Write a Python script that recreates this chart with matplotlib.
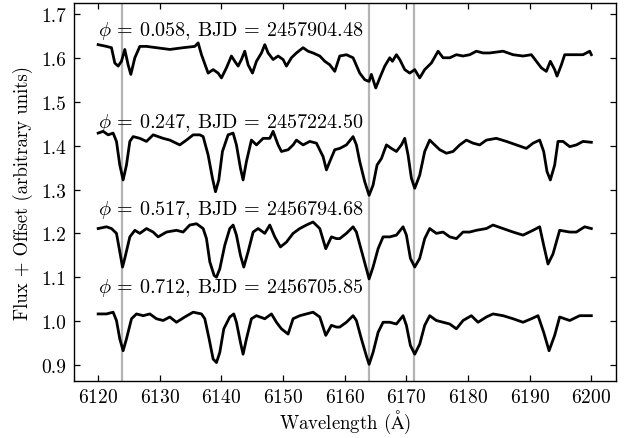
import numpy as np
import matplotlib
matplotlib.use("Agg")
import matplotlib.pyplot as plt

plt.rcParams["font.family"] = "serif"
plt.rcParams["font.serif"] = ["cmr10"]
plt.rcParams["mathtext.fontset"] = "cm"
plt.rcParams["axes.formatter.use_mathtext"] = True

# phase 0.058 (offset +0.6)
wl_a = [6120.0, 6121.35, 6122.16, 6122.70, 6123.24, 6123.78, 6124.32, 6124.86, 6125.30, 6125.95,
        6126.76, 6127.84, 6129.46, 6131.62, 6133.78, 6135.68, 6136.22, 6136.76, 6137.84, 6138.65,
        6139.46, 6140.00, 6140.81, 6141.62, 6142.16, 6142.70, 6143.24, 6143.78, 6144.32, 6145.03,
        6145.68, 6146.49, 6147.03, 6147.57, 6148.38, 6149.19, 6150.00, 6150.54, 6151.35, 6152.16,
        6153.24, 6154.05, 6154.86, 6155.95, 6156.76, 6157.57, 6158.38, 6159.19, 6160.27, 6161.35,
        6162.43, 6163.24, 6163.95, 6164.32, 6165.03, 6165.68, 6166.49, 6167.30, 6167.73, 6168.38,
        6168.92, 6169.73, 6170.54, 6171.35, 6172.16, 6172.97, 6174.05, 6175.14, 6175.95, 6177.03,
        6178.11, 6179.19, 6180.27, 6181.35, 6182.43, 6183.51, 6185.68, 6187.30, 6188.92, 6190.27,
        6191.08, 6191.89, 6192.70, 6193.35, 6194.05, 6194.43, 6195.14, 6195.68, 6197.03, 6198.65,
        6199.73, 6200.0]
fx_a = [1.631, 1.627, 1.624, 1.589, 1.582, 1.593, 1.620, 1.585, 1.563, 1.601,
        1.627, 1.627, 1.624, 1.620, 1.624, 1.627, 1.635, 1.608, 1.566, 1.574,
        1.566, 1.555, 1.578, 1.605, 1.593, 1.582, 1.597, 1.616, 1.585, 1.566,
        1.593, 1.612, 1.631, 1.612, 1.597, 1.605, 1.597, 1.582, 1.601, 1.612,
        1.624, 1.616, 1.612, 1.605, 1.593, 1.585, 1.570, 1.605, 1.608, 1.601,
        1.566, 1.551, 1.547, 1.563, 1.532, 1.555, 1.582, 1.601, 1.593, 1.608,
        1.597, 1.574, 1.566, 1.574, 1.555, 1.574, 1.589, 1.616, 1.601, 1.601,
        1.608, 1.605, 1.608, 1.616, 1.612, 1.612, 1.616, 1.608, 1.605, 1.608,
        1.593, 1.578, 1.570, 1.593, 1.574, 1.559, 1.585, 1.608, 1.608, 1.608,
        1.616, 1.608]

# phase 0.247 (offset +0.4)
wl_b = [6120.0, 6120.81, 6121.62, 6122.43, 6122.97, 6123.51, 6124.05, 6124.59, 6125.14, 6125.68,
        6126.76, 6127.84, 6128.92, 6130.54, 6131.62, 6133.24, 6134.32, 6135.41, 6136.49, 6137.03,
        6137.84, 6138.54, 6139.03, 6139.57, 6140.16, 6141.08, 6141.89, 6142.43, 6143.08, 6143.51,
        6144.05, 6144.86, 6145.68, 6146.76, 6147.84, 6148.38, 6149.19, 6149.73, 6150.81, 6151.62,
        6152.16, 6153.24, 6154.32, 6155.41, 6156.49, 6157.03, 6157.57, 6158.38, 6159.19, 6160.27,
        6161.35, 6161.89, 6162.43, 6163.24, 6163.95, 6164.59, 6165.24, 6165.95, 6166.76, 6167.57,
        6168.38, 6169.19, 6169.73, 6170.27, 6170.81, 6171.35, 6172.16, 6172.97, 6173.78, 6174.59,
        6175.41, 6176.49, 6177.57, 6178.65, 6179.73, 6180.81, 6181.89, 6182.97, 6184.59, 6186.22,
        6187.84, 6189.46, 6190.54, 6191.62, 6192.27, 6192.81, 6193.35, 6194.05, 6194.59, 6195.41,
        6196.49, 6197.57, 6198.65, 6200.0]
fx_b = [1.429, 1.433, 1.425, 1.429, 1.410, 1.356, 1.322, 1.356, 1.410, 1.421,
        1.417, 1.410, 1.425, 1.417, 1.413, 1.402, 1.413, 1.425, 1.425, 1.421,
        1.379, 1.326, 1.295, 1.322, 1.387, 1.425, 1.429, 1.402, 1.349, 1.322,
        1.364, 1.413, 1.402, 1.417, 1.417, 1.433, 1.402, 1.387, 1.391, 1.402,
        1.413, 1.402, 1.410, 1.406, 1.375, 1.345, 1.364, 1.391, 1.394, 1.402,
        1.421, 1.402, 1.364, 1.318, 1.287, 1.310, 1.356, 1.371, 1.402, 1.394,
        1.387, 1.402, 1.417, 1.379, 1.326, 1.303, 1.333, 1.387, 1.413, 1.402,
        1.391, 1.383, 1.387, 1.402, 1.413, 1.406, 1.402, 1.413, 1.417, 1.410,
        1.402, 1.394, 1.406, 1.413, 1.387, 1.341, 1.322, 1.356, 1.410, 1.410,
        1.398, 1.402, 1.410, 1.408]

# phase 0.517 (offset +0.2)
wl_c = [6120.0, 6121.35, 6122.16, 6122.97, 6123.51, 6123.95, 6124.32, 6125.14, 6125.95, 6126.76,
        6127.84, 6128.92, 6129.73, 6131.08, 6132.70, 6133.78, 6134.86, 6135.95, 6137.03, 6137.57,
        6138.11, 6138.81, 6139.19, 6139.73, 6140.54, 6141.35, 6141.89, 6142.43, 6143.08, 6143.62,
        6144.32, 6145.14, 6145.95, 6147.03, 6147.84, 6148.65, 6149.57, 6150.54, 6151.62, 6152.70,
        6153.78, 6154.86, 6155.95, 6156.92, 6157.84, 6158.65, 6159.19, 6160.27, 6161.35, 6161.89,
        6162.70, 6163.51, 6163.95, 6164.59, 6165.41, 6166.22, 6167.30, 6168.38, 6169.46, 6170.00,
        6170.65, 6171.35, 6172.16, 6172.97, 6173.78, 6174.86, 6175.95, 6177.03, 6178.11, 6179.19,
        6180.27, 6181.35, 6182.97, 6184.05, 6185.68, 6187.30, 6188.92, 6190.54, 6191.62, 6192.27,
        6192.97, 6193.78, 6194.86, 6196.49, 6197.57, 6198.92, 6200.0]
fx_c = [1.211, 1.215, 1.211, 1.200, 1.158, 1.123, 1.143, 1.192, 1.207, 1.200,
        1.211, 1.203, 1.192, 1.203, 1.207, 1.203, 1.219, 1.222, 1.211, 1.188,
        1.135, 1.104, 1.100, 1.119, 1.173, 1.211, 1.219, 1.196, 1.150, 1.123,
        1.158, 1.203, 1.211, 1.200, 1.219, 1.192, 1.169, 1.180, 1.200, 1.211,
        1.219, 1.226, 1.211, 1.165, 1.192, 1.188, 1.188, 1.200, 1.215, 1.203,
        1.161, 1.119, 1.096, 1.123, 1.165, 1.192, 1.192, 1.196, 1.215, 1.196,
        1.143, 1.123, 1.143, 1.188, 1.211, 1.200, 1.203, 1.192, 1.188, 1.203,
        1.203, 1.207, 1.211, 1.219, 1.211, 1.203, 1.196, 1.207, 1.215, 1.173,
        1.130, 1.153, 1.207, 1.203, 1.203, 1.215, 1.211]

# phase 0.712 (no offset)
wl_d = [6120.0, 6121.35, 6122.43, 6122.97, 6123.51, 6124.05, 6124.59, 6125.41, 6126.22, 6127.30,
        6128.38, 6129.46, 6130.54, 6131.62, 6132.70, 6134.05, 6135.41, 6136.76, 6137.30, 6138.00,
        6138.65, 6139.19, 6139.73, 6140.38, 6141.35, 6142.00, 6142.43, 6143.08, 6143.51, 6144.05,
        6144.86, 6145.68, 6147.03, 6148.11, 6148.92, 6149.73, 6150.81, 6151.62, 6152.70, 6153.78,
        6154.86, 6155.95, 6156.92, 6157.84, 6158.65, 6159.19, 6160.27, 6161.35, 6161.89, 6162.70,
        6163.51, 6163.95, 6164.59, 6165.41, 6166.22, 6167.30, 6168.38, 6169.46, 6170.00, 6170.65,
        6171.35, 6172.16, 6172.97, 6173.78, 6174.86, 6175.95, 6177.03, 6178.11, 6179.19, 6180.54,
        6181.62, 6182.97, 6184.05, 6185.68, 6187.30, 6188.92, 6190.27, 6191.35, 6192.27, 6193.14,
        6194.05, 6194.86, 6196.49, 6198.11, 6200.0]
fx_d = [1.016, 1.016, 1.020, 1.001, 0.959, 0.932, 0.959, 1.005, 1.016, 1.012,
        1.016, 1.005, 1.001, 1.009, 0.997, 1.009, 1.020, 1.016, 1.005, 0.959,
        0.913, 0.905, 0.928, 0.982, 1.009, 1.016, 0.997, 0.951, 0.924, 0.959,
        1.005, 1.012, 1.005, 1.016, 0.997, 0.982, 0.970, 1.005, 1.012, 1.016,
        1.020, 1.009, 0.967, 0.990, 0.986, 0.986, 0.997, 1.012, 1.001, 0.959,
        0.920, 0.901, 0.928, 0.974, 0.997, 0.997, 0.993, 1.012, 0.990, 0.944,
        0.924, 0.947, 0.990, 1.012, 1.001, 0.997, 0.993, 0.982, 1.001, 1.012,
        0.997, 1.009, 1.016, 1.012, 1.005, 0.997, 1.005, 1.012, 0.974, 0.932,
        0.967, 1.009, 1.001, 1.012, 1.012]

spectra = [(wl_a, fx_a), (wl_b, fx_b), (wl_c, fx_c), (wl_d, fx_d)]
labels = [r"$\phi$ = 0.058, BJD = 2457904.48",
          r"$\phi$ = 0.247, BJD = 2457224.50",
          r"$\phi$ = 0.517, BJD = 2456794.68",
          r"$\phi$ = 0.712, BJD = 2456705.85"]
label_y = [1.652, 1.444, 1.245, 1.066]
lines = [6123.9, 6163.9, 6171.2]

fig = plt.figure(figsize=(6.25, 4.39), dpi=100)
ax = fig.add_subplot(111)
fig.subplots_adjust(left=0.1176, right=0.9856, bottom=0.129, top=0.9898)

for l in lines:
    ax.axvline(l, color="#b4b4b4", lw=1.6, zorder=0)

for (w, f) in spectra:
    ax.plot(w, f, color="black", lw=2.0, zorder=2)

for t, yl in zip(labels, label_y):
    ax.text(6120.0, yl, t, fontsize=14.5, va="baseline", ha="left")

ax.set_xlim(6116, 6204)
ax.set_ylim(0.862, 1.725)
ax.set_xticks(np.arange(6120, 6201, 10))
ax.set_yticks(np.arange(0.9, 1.71, 0.1))
ax.yaxis.set_major_formatter(matplotlib.ticker.FormatStrFormatter("%.1f"))
ax.tick_params(direction="in", top=True, right=True, length=4.5, width=0.9, labelsize=14, pad=5)
for s in ax.spines.values():
    s.set_linewidth(1.0)

ax.set_xlabel(r"Wavelength ($\mathrm{\AA}$)", fontsize=13.5, labelpad=1)
ax.set_ylabel("Flux + Offset (arbitrary units)", fontsize=13.5, labelpad=6)

fig.savefig("out.png", dpi=100)
